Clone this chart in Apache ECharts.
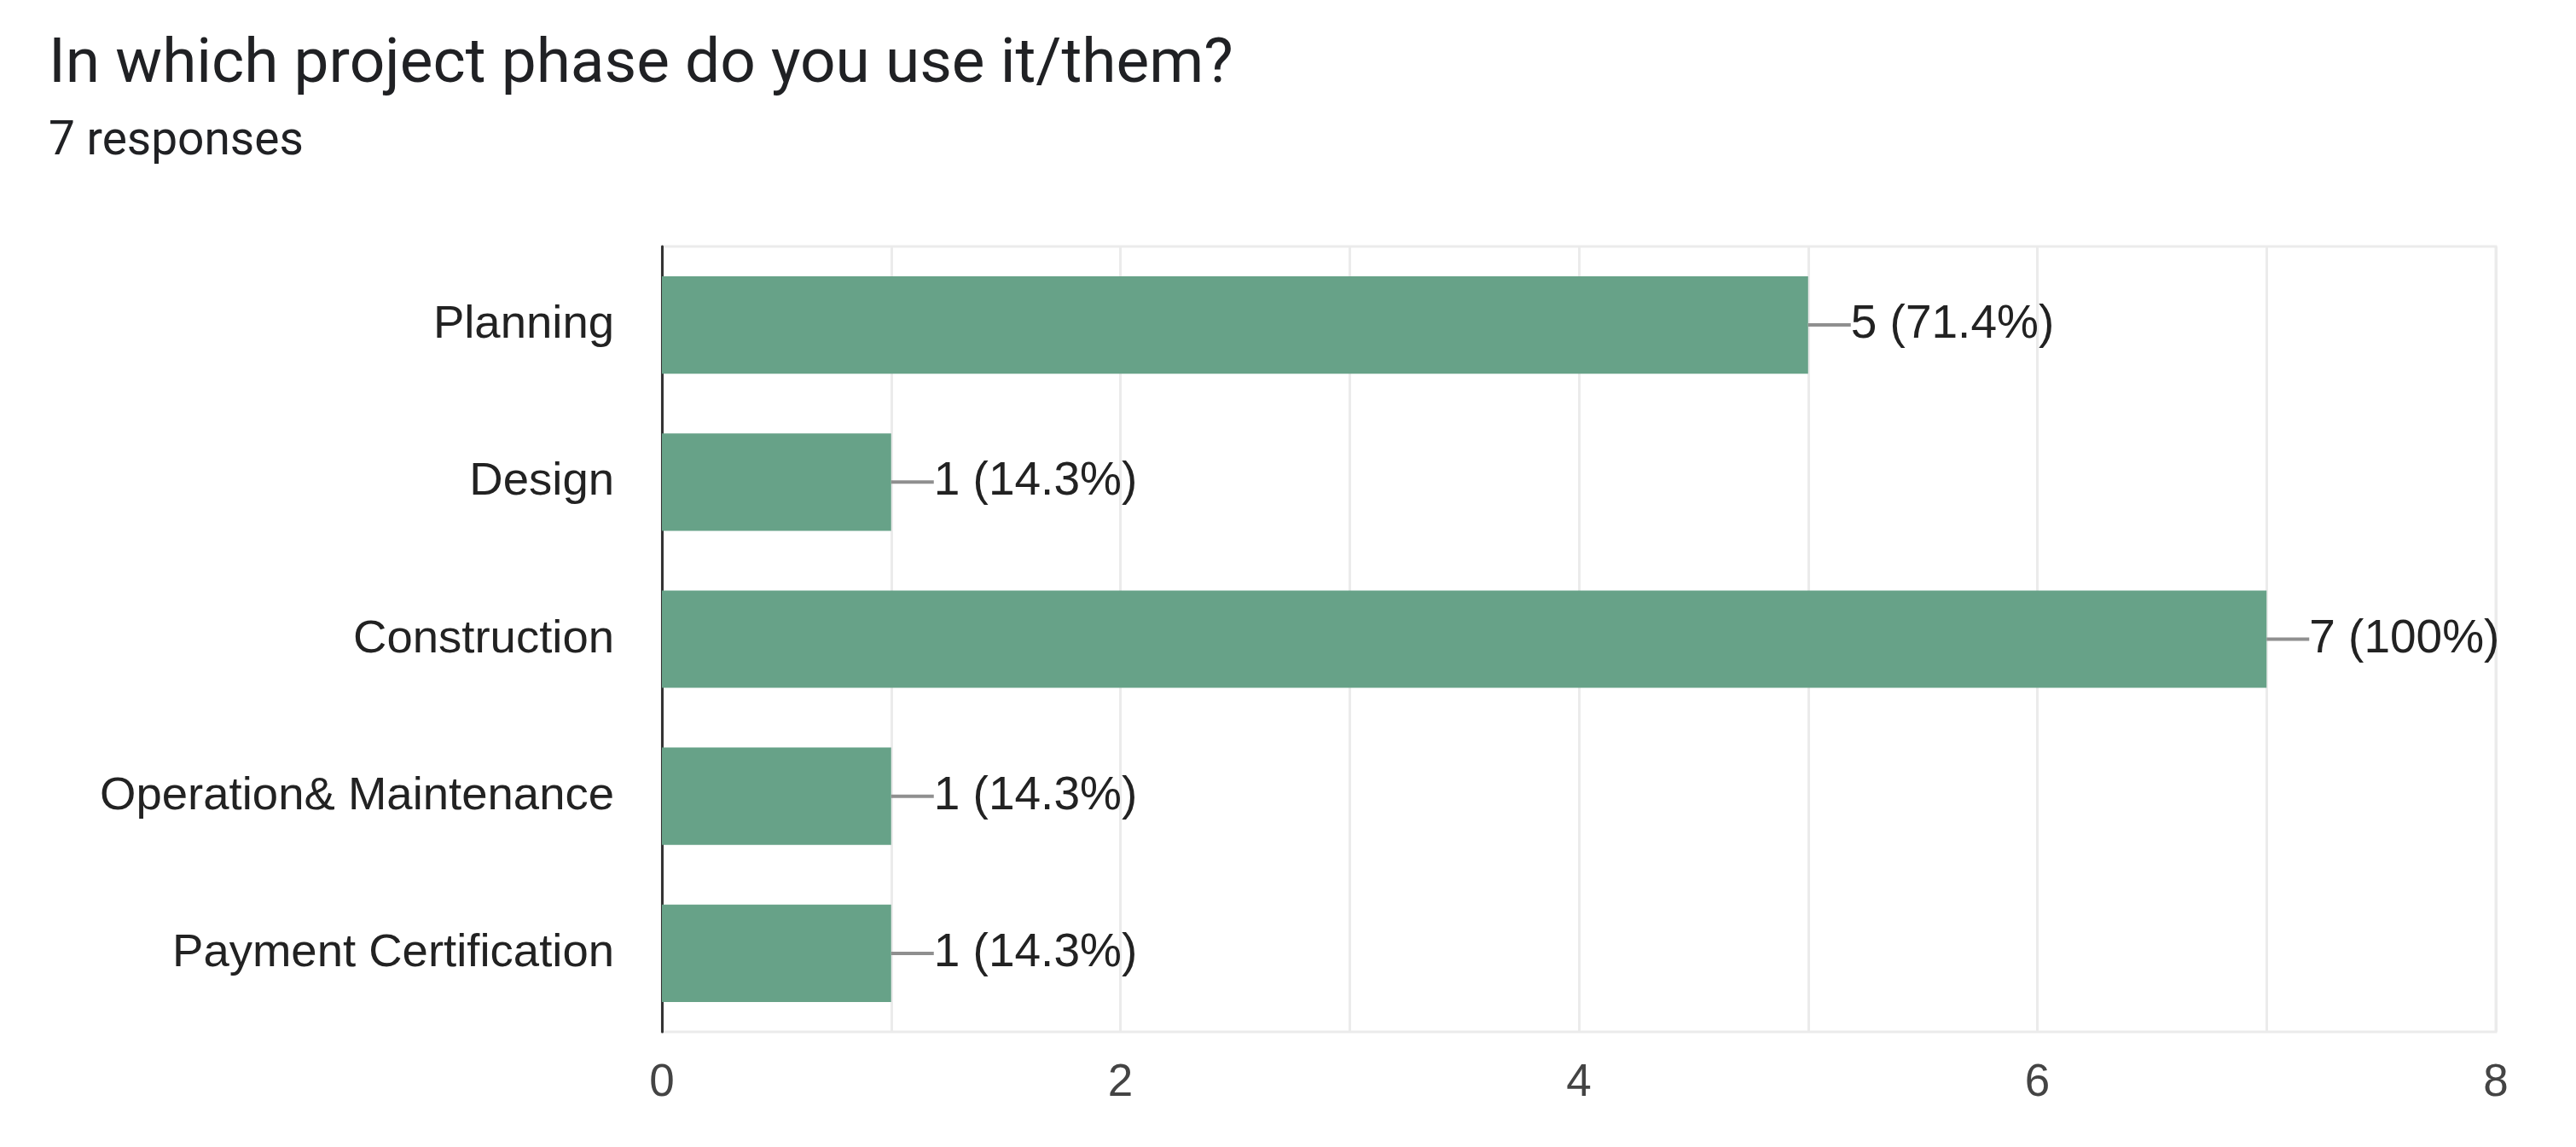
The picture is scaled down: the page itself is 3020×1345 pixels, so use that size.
<!DOCTYPE html>
<html>
<head>
<meta charset="utf-8">
<script src="https://cdn.jsdelivr.net/npm/echarts@6/dist/echarts.min.js"></script>
<style>
  html, body { margin: 0; padding: 0; background: #fff; }
  #main { width: 3020px; height: 1345px; }
</style>
</head>
<body>
<div id="main"></div>
<script>
// categories, top to bottom as in the picture
var categories = ['Planning', 'Design', 'Construction', 'Operation& Maintenance', 'Payment Certification'];
var counts = [5, 1, 7, 1, 1];
var percents = ['71.4%', '14.3%', '100%', '14.3%', '14.3%'];
var xTicks = [0, 2, 4, 6, 8];

var chart = echarts.init(document.getElementById('main'));

var option = {
    backgroundColor: '#fff',
    animation: false,
    title: [{
        text: 'In which project phase do you use it/them?',
        left: 52,
        top: 36,
        textStyle: { fontFamily: 'Roboto', fontSize: 73, fontWeight: 'normal', color: '#202124' }
    }, {
        text: '7 responses',
        left: 52,
        top: 135,
        textStyle: { fontFamily: 'Roboto', fontSize: 55, fontWeight: 'normal', color: '#202124' }
    }],
    grid: {
        left: 776,
        right: 94,
        top: 289,
        bottom: 135,
        show: true,
        borderColor: '#ebebeb',
        borderWidth: 3
    },
    xAxis: {
        type: 'value',
        min: xTicks[0],
        max: xTicks[xTicks.length - 1],
        interval: 2,
        axisLine: { show: false },
        axisTick: { show: false },
        axisLabel: {
            margin: 34,
            fontFamily: 'Liberation Sans',
            fontSize: 53,
            color: '#444'
        },
        splitLine: { show: true, lineStyle: { color: '#ebebeb', width: 3 } },
        minorTick: { show: false, splitNumber: 2 },
        minorSplitLine: { show: true, lineStyle: { color: '#ebebeb', width: 3 } }
    },
    yAxis: {
        type: 'category',
        data: categories,
        inverse: true,
        axisLine: { show: true, lineStyle: { color: '#333', width: 3 } },
        axisTick: { show: false },
        axisLabel: {
            margin: 56,
            fontFamily: 'Liberation Sans',
            fontSize: 54.5,
            color: '#222'
        }
    },
    series: [{
        type: 'bar',
        data: counts,
        barWidth: '62%',
        itemStyle: { color: '#67a288' },
        label: {
            show: true,
            position: 'right',
            distance: 0,
            formatter: function (p) {
                return '{ln|}{v|' + p.value + ' (' + percents[p.dataIndex] + ')}';
            },
            rich: {
                ln: { width: 50, height: 4, backgroundColor: '#8f8f8f' },
                v: { fontFamily: 'Liberation Sans', fontSize: 55, color: '#222' }
            }
        }
    }]
};

chart.setOption(option);
</script>
</body>
</html>
